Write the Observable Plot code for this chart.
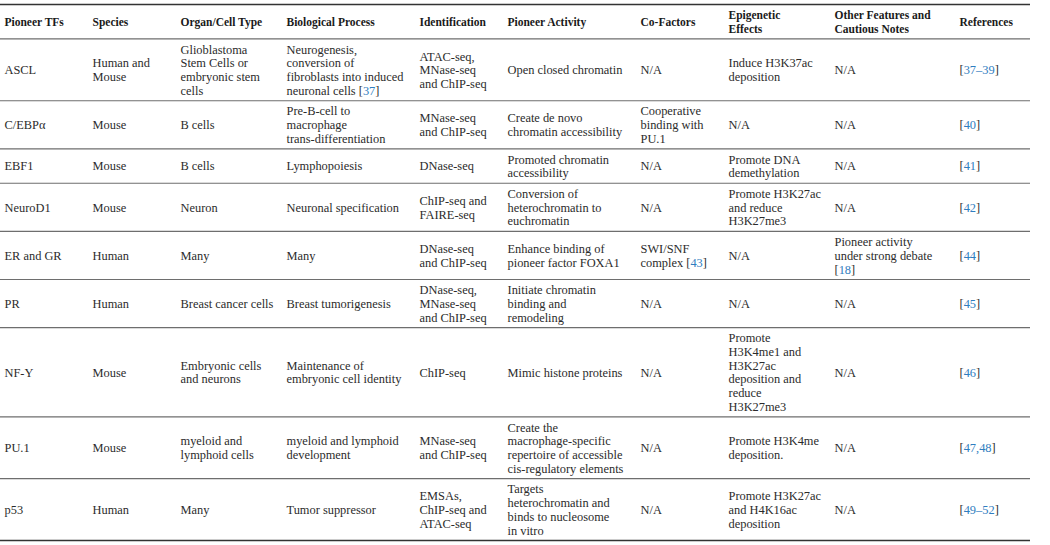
<!DOCTYPE html>
<html>
<head>
<meta charset="utf-8">
<script src="https://cdn.jsdelivr.net/npm/d3@7"></script>
<script src="https://cdn.jsdelivr.net/npm/@observablehq/plot@0.6"></script>
<style>
  html, body { margin: 0; padding: 0; background: #fff; }
  #chart svg { display: block; }
</style>
</head>
<body>
<div id="chart"></div>
<script>
// ---- Table content ----
const headers = ["Pioneer TFs", "Species", "Organ/Cell Type", "Biological Process", "Identification",
  "Pioneer Activity", "Co-Factors", "Epigenetic\nEffects", "Other Features and\nCautious Notes", "References"];

const pioneerTFs = ["ASCL", "C/EBPα", "EBF1", "NeuroD1", "ER and GR", "PR", "NF-Y", "PU.1", "p53"];
const species = ["Human and\nMouse", "Mouse", "Mouse", "Mouse", "Human", "Human", "Mouse", "Mouse", "Human"];
const organCellType = ["Glioblastoma\nStem Cells or\nembryonic stem\ncells", "B cells", "B cells", "Neuron", "Many",
  "Breast cancer cells", "Embryonic cells\nand neurons", "myeloid and\nlymphoid cells", "Many"];
const biologicalProcess = ["Neurogenesis,\nconversion of\nfibroblasts into induced\nneuronal cells [37]",
  "Pre-B-cell to\nmacrophage\ntrans-differentiation", "Lymphopoiesis", "Neuronal specification", "Many",
  "Breast tumorigenesis", "Maintenance of\nembryonic cell identity", "myeloid and lymphoid\ndevelopment", "Tumor suppressor"];
const identification = ["ATAC-seq,\nMNase-seq\nand ChIP-seq", "MNase-seq\nand ChIP-seq", "DNase-seq", "ChIP-seq and\nFAIRE-seq",
  "DNase-seq\nand ChIP-seq", "DNase-seq,\nMNase-seq\nand ChIP-seq", "ChIP-seq", "MNase-seq\nand ChIP-seq",
  "EMSAs,\nChIP-seq and\nATAC-seq"];
const pioneerActivity = ["Open closed chromatin", "Create de novo\nchromatin accessibility", "Promoted chromatin\naccessibility",
  "Conversion of\nheterochromatin to\neuchromatin", "Enhance binding of\npioneer factor FOXA1",
  "Initiate chromatin\nbinding and\nremodeling", "Mimic histone proteins",
  "Create the\nmacrophage-specific\nrepertoire of accessible\ncis-regulatory elements",
  "Targets\nheterochromatin and\nbinds to nucleosome\nin vitro"];
const coFactors = ["N/A", "Cooperative\nbinding with\nPU.1", "N/A", "N/A", "SWI/SNF\ncomplex [43]", "N/A", "N/A", "N/A", "N/A"];
const epigeneticEffects = ["Induce H3K37ac\ndeposition", "N/A", "Promote DNA\ndemethylation",
  "Promote H3K27ac\nand reduce\nH3K27me3", "N/A", "N/A",
  "Promote\nH3K4me1 and\nH3K27ac\ndeposition and\nreduce\nH3K27me3", "Promote H3K4me\ndeposition.",
  "Promote H3K27ac\nand H4K16ac\ndeposition"];
const otherFeatures = ["N/A", "N/A", "N/A", "N/A", "Pioneer activity\nunder strong debate\n[18]", "N/A", "N/A", "N/A", "N/A"];
const references = ["[37–39]", "[40]", "[41]", "[42]", "[44]", "[45]", "[46]", "[47,48]", "[49–52]"];

// ---- Layout (separate from data) ----
const colLeft = [4, 92, 180, 286, 419, 507, 640, 728, 834, 959];
const tableLeft = 0, tableRight = 1030;
const lineH = 13.7, rowPad = 7;
const fontSize = 12.4;

const columns = [pioneerTFs, species, organCellType, biologicalProcess, identification,
  pioneerActivity, coFactors, epigeneticEffects, otherFeatures, references];

const rows = [headers, ...pioneerTFs.map((_, i) => columns.map(c => c[i]))];
const nLines = s => s.split("\n").length;
const rowHeights = rows.map(r => d3.max(r, nLines) * lineH + rowPad);
const bounds = [0, ...d3.cumsum(rowHeights)];
const total = bounds[bounds.length - 1];

const cells = [];
rows.forEach((r, ri) => r.forEach((t, ci) => cells.push({
  text: t, x: colLeft[ci], y: (bounds[ri] + bounds[ri + 1]) / 2, header: ri === 0
})));

const innerRules = bounds.slice(1, -1);
const outerRules = [bounds[0], bounds[bounds.length - 1]];

const fam = "'Liberation Serif', 'Times New Roman', serif";

const plot = Plot.plot({
  width: 1050,
  height: 545,
  margin: 0,
  x: {domain: [0, 1050], range: [0, 1050], axis: null},
  y: {domain: [0, total], range: [4, 540], axis: null},
  style: {fontFamily: fam, background: "#fff"},
  marks: [
    Plot.ruleY(innerRules, {y: d => d, x1: tableLeft, x2: tableRight, stroke: "#6e6e6e", strokeWidth: 1.2}),
    Plot.ruleY(outerRules, {y: d => d, x1: tableLeft, x2: tableRight, stroke: "#333", strokeWidth: 1.6}),
    Plot.text(cells.filter(d => !d.header), {
      x: "x", y: "y", text: "text", textAnchor: "start", lineAnchor: "middle",
      lineHeight: lineH / fontSize, fontSize: fontSize, fill: "#2b2b2b", fontFamily: fam
    }),
    Plot.text(cells.filter(d => d.header), {
      x: "x", y: "y", text: "text", textAnchor: "start", lineAnchor: "middle",
      lineHeight: lineH / 11.5, fontSize: 11.5, fontWeight: "bold", fill: "#1a1a1a", fontFamily: fam
    })
  ]
});

// colour citation numbers blue, keep brackets dark
const NS = "http://www.w3.org/2000/svg";
const blue = "#2f7dc0";
Array.from(plot.querySelectorAll("text, tspan")).forEach(el => {
  if (el.children.length > 0) return;
  const s = el.textContent;
  if (!/\[[^\]]*\]/.test(s)) return;
  el.textContent = "";
  s.split(/(\[[^\]]*\])/).forEach(part => {
    if (!part) return;
    const m = part.match(/^\[([^\]]*)\]$/);
    if (m) {
      el.appendChild(document.createTextNode("["));
      const t = document.createElementNS(NS, "tspan");
      t.setAttribute("fill", blue);
      t.textContent = m[1];
      el.appendChild(t);
      el.appendChild(document.createTextNode("]"));
    } else {
      el.appendChild(document.createTextNode(part));
    }
  });
});

document.getElementById("chart").appendChild(plot);
</script>
</body>
</html>
